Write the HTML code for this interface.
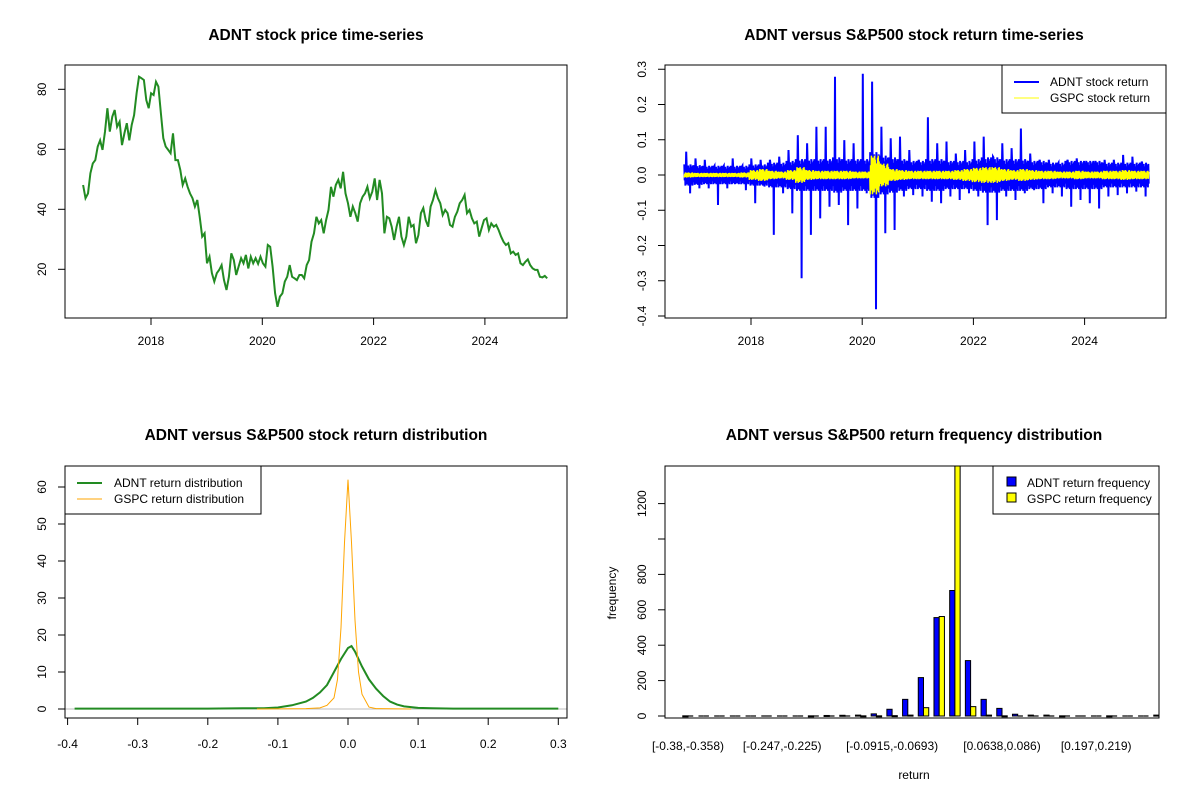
<!DOCTYPE html>
<html><head><meta charset="utf-8"><style>
body{margin:0;background:#fff;}
svg{display:block;font-family:"Liberation Sans",Arial,sans-serif;}
.t{font-weight:bold;font-size:15.5px;text-anchor:middle;}
.k{font-size:12px;}
</style></head><body>
<svg id="s" width="1200" height="800" viewBox="0 0 1200 800" xmlns="http://www.w3.org/2000/svg"></svg>
<script>
// ---- price series (ADNT), evenly spaced from 2016.78 to 2025.12
const priceStart = 2016.78, priceEnd = 2025.12;
const priceValues = [48.1,43.7,45.3,52,55.3,56.4,60.9,63,59.8,65.9,73.7,65.9,70.9,73.1,67.5,69.2,61.4,65.3,68.7,63,68.1,71.4,78.7,84.2,83.7,83.1,76.4,73.7,78.7,78.1,82.5,80.9,72,63.7,60.9,59.8,58.7,65.3,56.4,56.4,53.1,48.1,50.3,47.5,45.3,43.7,40.9,43.1,37.5,30.9,32,22,24.2,18.7,15.9,18.7,19.8,21.4,16.4,13.1,17.5,25.3,23.1,18.1,20.9,23.7,22,24.8,20.3,24.2,22,23.7,21.8,24.2,22,20.9,28.1,27.5,20.9,12,7.5,10.9,12,15.9,17.5,21.4,17.5,17,16.4,18.1,18.1,17,21.4,23.1,29.2,32,37.5,35.3,36.4,32,36.4,39.8,47.5,44.2,48.1,49.8,47,52.5,45.3,42,37.5,40.9,38.7,35.9,42,44.2,45.3,47.5,43.7,45.9,50.3,43.1,49.8,45.3,32,37.5,37,34.2,29.8,34.2,37.5,30.9,28.1,30.9,37.5,34.2,34.8,28.7,31.4,38.7,40.4,36.4,34.2,40.9,43.1,46.4,43.7,42,38.1,39.8,38.7,34.8,34.2,37.5,39.2,42,43.1,44.8,38.7,39.8,37,35.3,35.9,30.9,33.7,36.4,37,33.1,35.3,34.2,34.8,33.1,30.9,29.2,28.1,28.7,25.3,25.9,24.8,25.3,22,21.4,22.5,23.3,21.4,20.3,19.8,19.8,17.5,17.3,17.8,17];
const priceTicksY = [20,40,60,80];
const yearTicks = [2018,2020,2022,2024];
// ---- returns: bi-monthly extremes and typical band
const retStart = 2016.80, retEnd = 2025.16;
const adntHi = [.066,.047,.043,.024,.024,.047,.024,.047,.043,.043,.052,.071,.113,.090,.137,.137,.279,.099,.090,.287,.265,.137,.104,.109,.071,.043,.164,.090,.095,.061,.071,.095,.109,.052,.090,.076,.132,.061,.043,.043,.033,.043,.047,.033,.033,.043,.043,.057,.052,.038];
const adntLo = [-.052,-.038,-.038,-.085,-.038,-.024,-.043,-.080,-.033,-.170,-.052,-.109,-.293,-.170,-.123,-.090,-.085,-.142,-.095,-.052,-.381,-.165,-.156,-.061,-.057,-.061,-.076,-.080,-.061,-.071,-.052,-.061,-.142,-.128,-.061,-.071,-.052,-.043,-.080,-.052,-.061,-.090,-.071,-.080,-.095,-.061,-.057,-.052,-.047,-.061];
const adntBand = [.03,.028,.026,.026,.026,.026,.026,.03,.03,.035,.035,.04,.045,.045,.045,.045,.05,.045,.045,.045,.065,.055,.05,.045,.04,.04,.045,.045,.04,.04,.04,.045,.05,.05,.045,.045,.045,.04,.04,.035,.035,.04,.04,.04,.04,.035,.035,.035,.035,.035];
const gspcBand = [.007,.006,.006,.006,.006,.006,.007,.014,.017,.012,.01,.014,.022,.014,.012,.012,.012,.012,.01,.01,.055,.032,.017,.014,.012,.012,.012,.012,.012,.014,.017,.02,.022,.022,.017,.014,.017,.014,.012,.012,.01,.01,.012,.01,.01,.012,.012,.014,.012,.012];
const retTicksY = [-0.4,-0.3,-0.2,-0.1,0.0,0.1,0.2,0.3];
// ---- densities
const adntDX = [-0.39,-0.2,-0.15,-0.12,-0.1,-0.08,-0.06,-0.05,-0.04,-0.03,-0.02,-0.01,0,0.005,0.01,0.02,0.03,0.04,0.05,0.06,0.07,0.08,0.1,0.12,0.15,0.2,0.3];
const adntDY = [0.1,0.1,0.2,0.2,0.4,1,2,3,4.5,6.5,10,13.5,16.5,17,15.5,11.5,8,5.5,3.5,2,1.2,0.7,0.3,0.2,0.1,0.1,0.1];
const gspcDX = [-0.13,-0.06,-0.04,-0.03,-0.02,-0.015,-0.01,-0.005,0,0.005,0.01,0.015,0.02,0.03,0.04,0.09];
const gspcDY = [0,0.1,0.3,1,3,8,22,45,62,45,24,10,4,0.5,0.1,0];
const densTicksX = [-0.4,-0.3,-0.2,-0.1,0.0,0.1,0.2,0.3];
const densTicksY = [0,10,20,30,40,50,60];
// ---- histogram
const binLabels = ["[-0.38,-0.358)","[-0.358,-0.336)","[-0.336,-0.314)","[-0.314,-0.291)","[-0.291,-0.269)","[-0.269,-0.247)","[-0.247,-0.225)","[-0.225,-0.203)","[-0.203,-0.18)","[-0.18,-0.158)","[-0.158,-0.136)","[-0.136,-0.114)","[-0.114,-0.0915)","[-0.0915,-0.0693)","[-0.0693,-0.0471)","[-0.0471,-0.0249)","[-0.0249,-0.00272)","[-0.00272,0.0195)","[0.0195,0.0417)","[0.0417,0.0638)","[0.0638,0.086)","[0.086,0.108)","[0.108,0.13)","[0.13,0.153)","[0.153,0.175)","[0.175,0.197)","[0.197,0.219)","[0.219,0.241)","[0.241,0.264)","[0.264,0.286)","[0.286,0.308)"];
const adntFreq = [1,0,0,0,0,0,0,0,1,3,4,5,12,38,94,217,556,709,313,94,43,10,5,5,1,0,0,1,0,0,5];
const gspcFreq = [0,0,0,0,0,0,0,0,0,0,0,1,1,2,5,47,562,1416,53,5,1,0,0,0,0,0,0,0,0,0,0];
const histTicksY = [0,200,400,600,800,1000,1200];
const histTickLabels = ["0","200","400","600","800","","1200"];
const histLabelIdx = [0,6,13,20,26];

const S = document.getElementById('s');
const NS = 'http://www.w3.org/2000/svg';
function mk(tag, attrs, parent){const e=document.createElementNS(NS,tag);for(const k in attrs)e.setAttribute(k,attrs[k]);(parent||S).appendChild(e);return e;}
function txt(x,y,s,cls,anchor,rot){const e=mk('text',{x:x,y:y,class:cls,'text-anchor':anchor||'middle'});if(rot)e.setAttribute('transform','rotate(-90 '+x+' '+y+')');e.textContent=s;return e;}
function poly(pts,color,w,name){const e=mk('polyline',{points:pts.map(p=>p[0].toFixed(1)+','+p[1].toFixed(1)).join(' '),fill:'none',stroke:color,'stroke-width':w,'stroke-linejoin':'miter'});return e;}
function frame(x1,y1,x2,y2,name){const e=mk('rect',{x:x1,y:y1,width:x2-x1,height:y2-y1,fill:'none',stroke:'#000','stroke-width':1});}
function line(x1,y1,x2,y2,c,w){return mk('line',{x1:x1,y1:y1,x2:x2,y2:y2,stroke:c||'#000','stroke-width':w||1});}

// ===== Panel 1: price
{
const X=d=>151+(d-2018)*55.65, Y=v=>89.3+(80-v)*3;
let t=txt(316,40,'ADNT stock price time-series','t');


const n=priceValues.length;
poly(priceValues.map((v,i)=>[X(priceStart+(priceEnd-priceStart)*i/(n-1)),Y(v)]),'#228B22',2,'adnt-price-line');
frame(65,65,567,318,'price-plot-frame');
priceTicksY.forEach(v=>{const l=line(58,Y(v),65,Y(v));const tt=txt(46,Y(v),String(v),'k','middle',true);});
yearTicks.forEach(d=>{const l=line(X(d),318,X(d),325);const tt=txt(X(d),345,String(d),'k');});
}
// ===== Panel 2: returns
{
const X=d=>751+(d-2018)*55.6, Y=v=>175-v*352.5;
let t=txt(914,40,'ADNT versus S&P500 stock return time-series','t');


const n=adntHi.length, step=(retEnd-retStart)/n;
const pa=[],pg=[];
const shape=[1,-0.5,0.8,-1,0.4,-0.7,1,-0.9,0.6,-0.4,0.9,-1,0.5,-0.8,0.7,-0.6,1,-0.5,0.8,-0.9,0.3,-1,0.9,-0.7];
for(let i=0;i<n;i++){
 const d0=retStart+i*step, b=adntBand[i], g=gspcBand[i];
 const seq=shape.map(s=>s*b);
 seq[5]=adntHi[i]; seq[15]=adntLo[i];
 seq.forEach((v,j)=>pa.push([X(d0+step*j/seq.length),Y(v)]));
 shape.forEach((s,j)=>pg.push([X(d0+step*j/shape.length),Y(-s*g)]));
}
poly(pa,'#0000FF',2,'adnt-return-line');
poly(pg,'#FFFF00',1.5,'gspc-return-line');
frame(665,65,1166,318,'returns-plot-frame');
retTicksY.forEach(v=>{const l=line(658,Y(v),665,Y(v));const tt=txt(646,Y(v),v.toFixed(1),'k','middle',true);});
yearTicks.forEach(d=>{const l=line(X(d),318,X(d),325);const tt=txt(X(d),345,String(d),'k');});
const lg=mk('g',{});
mk('rect',{x:1002,y:65,width:164,height:48,fill:'#fff',stroke:'#000'},lg);
mk('line',{x1:1014,y1:82,x2:1039,y2:82,stroke:'#0000FF','stroke-width':2},lg);
mk('line',{x1:1014,y1:98,x2:1039,y2:98,stroke:'#FFFF00','stroke-width':1},lg);
const a=mk('text',{x:1050,y:86,class:'k'},lg);a.textContent='ADNT stock return';
const b=mk('text',{x:1050,y:102,class:'k'},lg);b.textContent='GSPC stock return';
}
// ===== Panel 3: density
{
const X=r=>348+r*701, Y=d=>709-d*3.7;
let t=txt(316,440,'ADNT versus S&P500 stock return distribution','t');


const z=line(65,Y(0),567,Y(0),'#bebebe',1);
poly(adntDX.map((x,i)=>[X(x),Y(adntDY[i])]),'#228B22',2,'adnt-density-line');
poly(gspcDX.map((x,i)=>[X(x),Y(gspcDY[i])]),'#FFA500',1,'gspc-density-line');
frame(65,466,567,718,'density-plot-frame');
densTicksY.forEach(v=>{const l=line(58,Y(v),65,Y(v));const tt=txt(46,Y(v),String(v),'k','middle',true);});
densTicksX.forEach(v=>{const l=line(X(v),718,X(v),725);const tt=txt(X(v),748,v.toFixed(1),'k');});
const lg=mk('g',{});
mk('rect',{x:65,y:466,width:196,height:48,fill:'#fff',stroke:'#000'},lg);
mk('line',{x1:77,y1:483,x2:102,y2:483,stroke:'#228B22','stroke-width':2},lg);
mk('line',{x1:77,y1:499,x2:102,y2:499,stroke:'#FFA500','stroke-width':1},lg);
const a=mk('text',{x:114,y:487,class:'k'},lg);a.textContent='ADNT return distribution';
const b=mk('text',{x:114,y:503,class:'k'},lg);b.textContent='GSPC return distribution';
}
// ===== Panel 4: histogram
{
const Y=c=>716-c*0.177, GX=i=>688+i*15.7, bw=5.23;
let t=txt(914,440,'ADNT versus S&P500 return frequency distribution','t');


const clip=mk('clipPath',{id:'hc'});mk('rect',{x:665,y:466,width:494,height:252},clip);
const g=mk('g',{'clip-path':'url(#hc)'});
function bar(x,c,fill,name){
 if(c<=0){const l=mk('line',{x1:x,y1:716,x2:x+bw,y2:716,stroke:'#000','stroke-width':1.2},g);return;}
 const r=mk('rect',{x:x,y:Y(c),width:bw,height:Math.max(1,716-Y(c)),fill:fill,stroke:'#000','stroke-width':1},g);
 
 
}
adntFreq.forEach((c,i)=>bar(GX(i)-bw,c,'#0000FF','adnt-freq-bar'));
gspcFreq.forEach((c,i)=>bar(GX(i),c,'#FFFF00','gspc-freq-bar'));
frame(665,466,1159,718,'histogram-plot-frame');
histTicksY.forEach((v,i)=>{const l=line(658,Y(v),665,Y(v));const tt=txt(646,Y(v),histTickLabels[i],'k','middle',true);});
histLabelIdx.forEach(i=>{const tt=txt(GX(i),750,binLabels[i],'k');});
const xl=txt(914,779,'return','k');
const yl=txt(616,593,'frequency','k','middle',true);
const lg=mk('g',{});
mk('rect',{x:993,y:466,width:166,height:48,fill:'#fff',stroke:'#000'},lg);
mk('rect',{x:1007,y:477,width:9,height:9,fill:'#0000FF',stroke:'#000'},lg);
mk('rect',{x:1007,y:493,width:9,height:9,fill:'#FFFF00',stroke:'#000'},lg);
const a=mk('text',{x:1027,y:487,class:'k'},lg);a.textContent='ADNT return frequency';
const b=mk('text',{x:1027,y:503,class:'k'},lg);b.textContent='GSPC return frequency';
}
</script>
</body></html>
